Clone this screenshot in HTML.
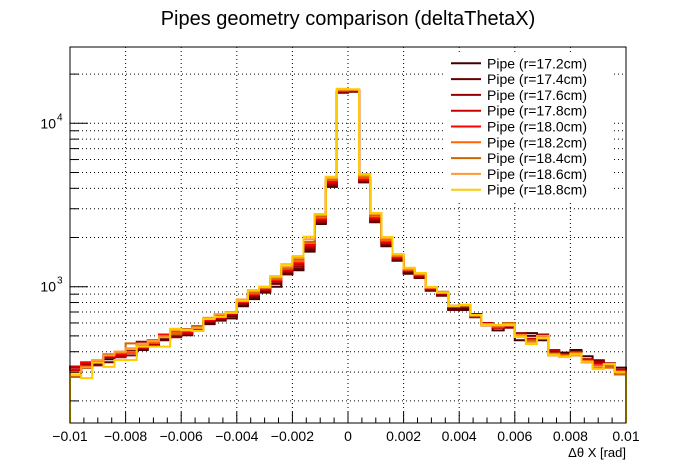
<!DOCTYPE html>
<html><head><meta charset="utf-8"><style>
html,body{margin:0;padding:0;background:#fff}
svg{display:block;font-family:"Liberation Sans",sans-serif}
</style></head><body>
<svg id="chart" width="696" height="472" viewBox="0 0 696 472">
<rect x="0" y="0" width="696" height="472" fill="#fff"/>
<text x="348" y="25" font-size="20" text-anchor="middle">Pipes geometry comparison (deltaThetaX)</text>
<g id="grid"></g>
<g id="series"></g>
<g id="axes"></g>
<g id="legend"></g>
<text x="626" y="457" font-size="13" text-anchor="end">Δθ X [rad]</text>
</svg>
<script>
const xMin=-0.01, xMax=0.01, nBins=50;
const yTickValues=[1000,10000];
const xTickLabels=["−0.01","−0.008","−0.006","−0.004","−0.002","0","0.002","0.004","0.006","0.008","0.01"];
const seriesNames=["Pipe (r=17.2cm)","Pipe (r=17.4cm)","Pipe (r=17.6cm)","Pipe (r=17.8cm)","Pipe (r=18.0cm)","Pipe (r=18.2cm)","Pipe (r=18.4cm)","Pipe (r=18.6cm)","Pipe (r=18.8cm)"];
const s172=[300,318,335,360,375,405,410,445,480,500,505,560,590,630,640,760,840,920,1000,1190,1260,1640,2420,4080,15400,15600,4350,2480,1770,1440,1200,1140,945,890,740,720,680,600,540,600,470,520,470,400,395,410,375,355,330,320];
const s174=[305,330,340,345,375,395,430,460,470,510,520,540,600,620,660,770,860,930,1040,1200,1290,1680,2450,4150,15500,15700,4400,2500,1800,1460,1220,1130,950,880,720,740,650,580,570,580,500,500,480,390,380,390,360,345,325,305];
const s176=[320,335,330,370,390,380,460,440,500,490,525,570,610,660,670,790,880,950,1070,1230,1330,1720,2500,4200,15600,15800,4450,2550,1830,1480,1240,1150,960,900,760,760,660,590,560,560,520,470,510,400,380,400,350,350,340,300];
const s178=[325,340,345,380,370,400,420,470,500,520,515,560,620,640,680,800,890,960,1080,1250,1370,1760,2550,4300,15700,15800,4500,2600,1850,1500,1250,1170,970,910,750,760,660,600,560,580,500,480,500,410,375,380,360,340,330,310];
const s180=[310,345,350,375,385,395,440,450,510,530,530,565,625,650,690,810,900,975,1100,1270,1400,1800,2600,4400,15800,15900,4550,2650,1880,1520,1260,1180,980,920,750,770,670,590,580,580,510,470,490,390,385,380,355,330,320,305];
const s182=[300,325,355,385,395,400,435,455,500,520,540,555,635,660,700,815,910,980,1110,1290,1430,1850,2650,4500,15900,16000,4650,2700,1920,1540,1270,1190,985,925,760,770,670,580,570,590,500,465,480,380,380,395,350,320,320,300];
const s184=[280,320,345,385,400,450,445,470,490,510,550,575,640,670,690,830,920,990,1120,1300,1470,1880,2700,4550,16000,16100,4700,2740,1950,1560,1280,1200,990,930,765,760,660,590,580,600,505,470,480,390,380,380,345,320,325,290];
const s186=[300,320,355,380,400,420,445,465,490,540,540,560,645,680,700,835,940,1000,1140,1330,1500,1950,2750,4620,16100,16100,4800,2790,1980,1570,1290,1200,990,925,765,775,670,590,580,590,505,455,500,385,375,380,345,325,335,300];
const s188=[288,276,343,323,356,356,430,430,430,553,543,536,634,653,691,821,955,996,1162,1377,1541,2023,2786,4710,16290,16150,4897,2825,2014,1585,1307,1213,995,919,762,773,671,583,583,583,492,446,485,382,371,387,348,313,336,302];
const seriesData=[s172,s174,s176,s178,s180,s182,s184,s186,s188];
const colors=["#440000","#660000","#990000","#cc0000","#ff0000","#ff6600","#cc6600","#ff9933","#ffcc00"];

const L=70,R=626,T=47,B=423;
const NS="http://www.w3.org/2000/svg";
function X(v){return L+(v-xMin)/(xMax-xMin)*(R-L);}
function Y(v){return 286.7-163.4*(Math.log10(v)-3);}
function mk(tag,attrs,parent){const e=document.createElementNS(NS,tag);for(const k in attrs)e.setAttribute(k,attrs[k]);parent.appendChild(e);return e;}
const grid=document.getElementById('grid'),axes=document.getElementById('axes'),ser=document.getElementById('series'),leg=document.getElementById('legend');

// grid
for(let i=0;i<xTickLabels.length;i++){
  const v=xMin+i*0.002, x=X(v);
  if(i>0&&i<xTickLabels.length-1){
    const g=mk('line',{x1:x,x2:x,y1:T,y2:B,stroke:'#000','stroke-width':1,'stroke-dasharray':'1,3'},grid);
    
    
  }
}
const yMinV=Math.pow(10,3+(286.7-B)/163.4), yMaxV=Math.pow(10,3+(286.7-T)/163.4);
for(let d=100;d<=10000;d*=10){
  for(let m=1;m<10;m++){
    const v=d*m; if(v<yMinV||v>yMaxV) continue;
    const y=Y(v);
    const g=mk('line',{x1:L,x2:R,y1:y,y2:y,stroke:'#000','stroke-width':1,'stroke-dasharray':'1,3'},grid);
    
    
    const t=mk('line',{x1:L,x2:L+(m===1?18:9),y1:y,y2:y,stroke:'#000','stroke-width':1},axes);
    
    
  }
}
// series
const bw=(xMax-xMin)/nBins;
seriesData.forEach((arr,si)=>{
  let d='M'+X(xMin)+','+B;
  for(let i=0;i<arr.length;i++){
    const y=Y(arr[i]);
    d+=' V'+y.toFixed(1)+' H'+X(xMin+(i+1)*bw).toFixed(1);
  }
  d+=' V'+B;
  const p=mk('path',{d:d,fill:'none',stroke:colors[si],'stroke-width':2},ser);
  
  
});
// frame
const fr=mk('rect',{x:L,y:T,width:R-L,height:B-T,fill:'none',stroke:'#000','stroke-width':1},axes);


// x ticks
for(let i=0;i<=40;i++){
  const x=X(xMin+i*0.0005);
  const len=(i%4===0)?11:5.5;
  const t=mk('line',{x1:x,x2:x,y1:B,y2:B-len,stroke:'#000','stroke-width':1},axes);
  
  
}
xTickLabels.forEach((lab,i)=>{
  const t=mk('text',{x:X(xMin+i*0.002),y:441,'font-size':14,'text-anchor':'middle'},axes);
  t.textContent=lab;
  
  
});
yTickValues.forEach(v=>{
  const t=mk('text',{x:56,y:Y(v)+5,'font-size':14,'text-anchor':'end'},axes);
  t.textContent='10';
  
  
  const s=mk('text',{x:57,y:Y(v)-3,'font-size':10},axes);
  s.textContent=String(Math.round(Math.log10(v)));
  
  
});
// legend
const lb=mk('rect',{x:446,y:55,width:166,height:145,fill:'#fff'},leg);


seriesNames.forEach((n,i)=>{
  const y=63.3+i*15.8;
  const l=mk('line',{x1:451,x2:481,y1:y,y2:y,stroke:colors[i],'stroke-width':2},leg);
  
  
  const t=mk('text',{x:487,y:y+5,'font-size':14},leg);
  t.textContent=n;
  
  
});
</script>
</body></html>
